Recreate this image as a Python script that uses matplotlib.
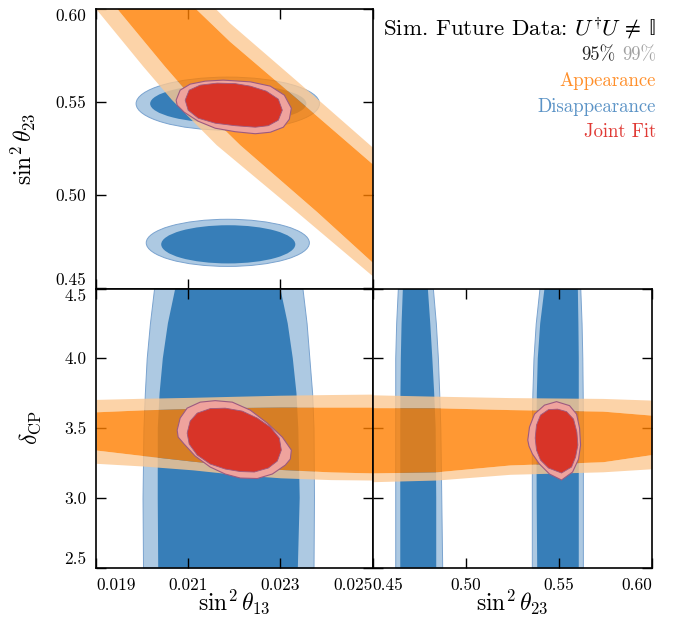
import matplotlib.pyplot as plt
from matplotlib.patches import Polygon, Ellipse

plt.rcParams['font.family'] = 'serif'
plt.rcParams['font.serif'] = ['cmr10']
plt.rcParams['mathtext.fontset'] = 'cm'
plt.rcParams['axes.formatter.use_mathtext'] = True

# colours for the three data sets (95% / 99% regions)
APP_95, APP_99 = '#ff7f00', '#fcc892'
DIS_95, DIS_99, DIS_EDGE = '#377eb8', '#adc9e2', '#7aa3cf'
JNT_95, JNT_99, JNT_EDGE = '#d83428', '#efa39d', '#9c5a80'
APP_ALPHA = 0.8

# axis ticks
s13_ticks = [0.019, 0.021, 0.023, 0.025]
s13_labels = ['0.019', '0.021', '0.023', '0.025']
s23_ticks = [0.45, 0.50, 0.55, 0.60]
s23_labels = ['0.45', '0.50', '0.55', '0.60']
dcp_ticks = [2.5, 3.0, 3.5, 4.0, 4.5]
dcp_labels = ['2.5', '3.0', '3.5', '4.0', '4.5']

# ---- sin^2 th13 vs sin^2 th23 ----
# appearance band edges (lower-left and upper-right), (s13, s23)
app_1323_99_lo = [(0.01830, 0.620), (0.01902, 0.5995), (0.02003, 0.5690), (0.02065, 0.5511),
                  (0.02162, 0.5269), (0.02336, 0.4910), (0.02503, 0.4561), (0.02580, 0.440)]
app_1323_95_lo = [(0.01880, 0.620), (0.01948, 0.5995), (0.02050, 0.5690), (0.02113, 0.5511),
                  (0.02213, 0.5269), (0.02380, 0.4910), (0.02503, 0.4633), (0.02606, 0.440)]
app_1323_95_hi = [(0.02620, 0.440), (0.02620, 0.4911), (0.02499, 0.5170), (0.02344, 0.5501),
                  (0.02191, 0.5824), (0.02119, 0.5995), (0.02033, 0.620)]
app_1323_99_hi = [(0.02640, 0.440), (0.02640, 0.4960), (0.02499, 0.5260), (0.02344, 0.5596),
                  (0.02191, 0.5923), (0.02162, 0.5995), (0.02080, 0.620)]

# disappearance: two islands (centre s13, centre s23, width, height)
dis_1323_99 = [(0.02186, 0.5492, 0.00398, 0.0285), (0.02186, 0.4745, 0.00354, 0.0253)]
dis_1323_95 = [(0.02187, 0.5492, 0.00339, 0.0210), (0.02187, 0.4737, 0.00291, 0.0205)]

# joint fit contours
jnt_1323_99 = [(0.020739, 0.55108), (0.020826, 0.55645), (0.021043, 0.55968), (0.021370, 0.56129),
               (0.021761, 0.56183), (0.022348, 0.56091), (0.022783, 0.55860), (0.023087, 0.55376),
               (0.023239, 0.54677), (0.023196, 0.54086), (0.023065, 0.53656), (0.022783, 0.53387),
               (0.022457, 0.53306), (0.022022, 0.53414), (0.021587, 0.53602), (0.021217, 0.53978),
               (0.020913, 0.54462), (0.020761, 0.54839)]
jnt_1323_95 = [(0.020935, 0.55108), (0.021022, 0.55645), (0.021261, 0.55914), (0.021630, 0.56022),
               (0.022022, 0.55995), (0.022348, 0.55860), (0.022696, 0.55591), (0.022957, 0.55161),
               (0.023043, 0.54570), (0.022957, 0.54032), (0.022739, 0.53737), (0.022457, 0.53656),
               (0.022022, 0.53737), (0.021587, 0.53871), (0.021217, 0.54140), (0.021000, 0.54570)]

# ---- sin^2 th13 vs delta_CP ----
s13_app = [0.0190, 0.0200, 0.0211, 0.0221, 0.0230, 0.0241, 0.0250]
dcp_app13_99_hi = [3.705, 3.713, 3.720, 3.728, 3.735, 3.740, 3.743]
dcp_app13_95_hi = [3.616, 3.630, 3.640, 3.647, 3.650, 3.650, 3.650]
dcp_app13_95_lo = [3.342, 3.303, 3.262, 3.228, 3.203, 3.185, 3.178]
dcp_app13_99_lo = [3.247, 3.228, 3.200, 3.165, 3.143, 3.130, 3.127]

dcp_dis = [2.5, 3.0, 3.5, 3.75, 4.0, 4.25, 4.5]
s13_dis_99_l = [0.02002, 0.02001, 0.02003, 0.02006, 0.02010, 0.02017, 0.02026]
s13_dis_99_r = [0.02372, 0.02373, 0.02372, 0.02369, 0.02363, 0.02357, 0.02348]
s13_dis_95_l = [0.02035, 0.02034, 0.02034, 0.02038, 0.02045, 0.02056, 0.02072]
s13_dis_95_r = [0.02338, 0.02342, 0.02339, 0.02335, 0.02327, 0.02316, 0.02300]

jnt_13cp_99 = [(0.020761, 3.4850), (0.020826, 3.5709), (0.020978, 3.6425), (0.021261, 3.6854),
               (0.021587, 3.6961), (0.021957, 3.6854), (0.022348, 3.6281), (0.022717, 3.5351),
               (0.023043, 3.4349), (0.023239, 3.3418), (0.023217, 3.2774), (0.023109, 3.2344),
               (0.022826, 3.1700), (0.022500, 3.1378), (0.022130, 3.1414), (0.021804, 3.1700),
               (0.021478, 3.2201), (0.021152, 3.2989), (0.020913, 3.3848), (0.020783, 3.4349)]
jnt_13cp_95 = [(0.020978, 3.4635), (0.021043, 3.5494), (0.021196, 3.6066), (0.021478, 3.6389),
               (0.021804, 3.6424), (0.022174, 3.6210), (0.022500, 3.5709), (0.022783, 3.5064),
               (0.022978, 3.4277), (0.023022, 3.3418), (0.022935, 3.2630), (0.022739, 3.2129),
               (0.022435, 3.1843), (0.022130, 3.1879), (0.021804, 3.2058), (0.021478, 3.2416),
               (0.021196, 3.3060), (0.021022, 3.3848)]

# ---- sin^2 th23 vs delta_CP ----
s23_app = [0.450, 0.4844, 0.5237, 0.5736, 0.600]
dcp_app23_99_hi = [3.738, 3.728, 3.718, 3.712, 3.700]
dcp_app23_95_hi = [3.646, 3.645, 3.632, 3.621, 3.592]
dcp_app23_95_lo = [3.178, 3.186, 3.235, 3.258, 3.310]
dcp_app23_99_lo = [3.115, 3.127, 3.168, 3.186, 3.208]

# two octant stripes, edges at the dcp_dis rows
s23_disA_99_l = [0.4622, 0.4622, 0.4622, 0.4622, 0.4622, 0.4627, 0.4636]
s23_disA_99_r = [0.4874, 0.4869, 0.4864, 0.4858, 0.4851, 0.4840, 0.4824]
s23_disA_95_l = [0.4649, 0.4649, 0.4649, 0.4650, 0.4652, 0.4656, 0.4663]
s23_disA_95_r = [0.4842, 0.4842, 0.4839, 0.4831, 0.4821, 0.4810, 0.4797]
s23_disB_99_l = [0.5355, 0.5355, 0.5355, 0.5358, 0.5364, 0.5376, 0.5396]
s23_disB_99_r = [0.5629, 0.5629, 0.5629, 0.5628, 0.5626, 0.5622, 0.5615]
s23_disB_95_l = [0.5384, 0.5381, 0.5380, 0.5382, 0.5387, 0.5400, 0.5423]
s23_disB_95_r = [0.5607, 0.5607, 0.5607, 0.5607, 0.5607, 0.5605, 0.5602]

jnt_23cp_99 = [(0.53333, 3.4134), (0.53425, 3.5064), (0.53694, 3.5995), (0.54231, 3.6639),
               (0.54876, 3.6890), (0.55575, 3.6603), (0.55952, 3.5995), (0.56113, 3.4993),
               (0.56167, 3.3776), (0.56059, 3.2774), (0.55737, 3.1843), (0.55145, 3.1271),
               (0.54500, 3.1700), (0.53962, 3.2416), (0.53586, 3.3132), (0.53398, 3.3704)]
jnt_23cp_95 = [(0.53731, 3.4277), (0.53801, 3.5208), (0.54016, 3.5924), (0.54446, 3.6317),
               (0.54930, 3.6353), (0.55414, 3.6174), (0.55790, 3.5637), (0.55968, 3.4707),
               (0.56022, 3.3776), (0.55898, 3.2917), (0.55683, 3.2201), (0.55145, 3.1772),
               (0.54446, 3.2129), (0.54016, 3.2702), (0.53801, 3.3418)]


def poly(ax, pts, **kw):
    ax.add_patch(Polygon(pts, closed=True, **kw))


def joint(ax, c99, c95):
    poly(ax, c99, facecolor=JNT_99, edgecolor=JNT_EDGE, lw=0.8, zorder=3)
    poly(ax, c95, facecolor=JNT_95, edgecolor=JNT_EDGE, lw=0.6, zorder=3)


def app_band_h(ax, x, hi99, hi95, lo95, lo99):
    ax.fill_between(x, hi95, hi99, color=APP_99, alpha=APP_ALPHA, lw=0, zorder=2)
    ax.fill_between(x, lo99, lo95, color=APP_99, alpha=APP_ALPHA, lw=0, zorder=2)
    ax.fill_between(x, lo95, hi95, color=APP_95, alpha=APP_ALPHA, lw=0, zorder=2)


def dis_stripe(ax, y, l99, r99, l95, r95):
    ax.fill_betweenx(y, l99, r99, facecolor=DIS_99, edgecolor=DIS_EDGE, lw=0.7, zorder=1)
    ax.fill_betweenx(y, l95, r95, facecolor=DIS_95, lw=0, zorder=1)


def style(ax):
    ax.tick_params(which='both', direction='in', top=True, right=True,
                   length=7.5, width=1.0, labelsize=12.5, pad=7)
    for sp in ax.spines.values():
        sp.set_linewidth(1.2)


def edge_ticklabels(ax, xaxis=True, yaxis=True):
    if xaxis:
        xl = ax.get_xticklabels()
        xl[0].set_horizontalalignment('left')
        xl[-1].set_horizontalalignment('right')
    if yaxis:
        yl = ax.get_yticklabels()
        yl[0].set_verticalalignment('bottom')
        yl[-1].set_verticalalignment('top')


fig = plt.figure(figsize=(6.83, 6.18), dpi=100)
ax_tl = fig.add_axes([96 / 683, 1 - 288.5 / 618, 276.5 / 683, 279.5 / 618])
ax_bl = fig.add_axes([96 / 683, 1 - 567.5 / 618, 276.5 / 683, 279 / 618])
ax_br = fig.add_axes([372.5 / 683, 1 - 567.5 / 618, 279.5 / 683, 279 / 618])

# top left: s13 vs s23
for cx, cy, w, h in dis_1323_99:
    ax_tl.add_patch(Ellipse((cx, cy), w, h, facecolor=DIS_99, edgecolor=DIS_EDGE, lw=0.7, zorder=1))
for cx, cy, w, h in dis_1323_95:
    ax_tl.add_patch(Ellipse((cx, cy), w, h, facecolor=DIS_95, lw=0, zorder=1))
poly(ax_tl, app_1323_99_lo + app_1323_95_lo[::-1], facecolor=APP_99, alpha=APP_ALPHA, lw=0, zorder=2)
poly(ax_tl, app_1323_95_hi + app_1323_99_hi[::-1], facecolor=APP_99, alpha=APP_ALPHA, lw=0, zorder=2)
poly(ax_tl, app_1323_95_lo + app_1323_95_hi, facecolor=APP_95, alpha=APP_ALPHA, lw=0, zorder=2)
joint(ax_tl, jnt_1323_99, jnt_1323_95)
ax_tl.set_xlim(0.019, 0.025)
ax_tl.set_ylim(0.45, 0.60)
ax_tl.set_xticks(s13_ticks)
ax_tl.set_yticks(s23_ticks)
ax_tl.set_yticklabels(s23_labels)
style(ax_tl)
ax_tl.tick_params(labelbottom=False)
edge_ticklabels(ax_tl, xaxis=False)
ax_tl.set_ylabel(r'$\sin^2\theta_{23}$', fontsize=17)
ax_tl.yaxis.set_label_coords(-0.213, 0.5)

# bottom left: s13 vs delta_CP
dis_stripe(ax_bl, dcp_dis, s13_dis_99_l, s13_dis_99_r, s13_dis_95_l, s13_dis_95_r)
app_band_h(ax_bl, s13_app, dcp_app13_99_hi, dcp_app13_95_hi, dcp_app13_95_lo, dcp_app13_99_lo)
joint(ax_bl, jnt_13cp_99, jnt_13cp_95)
ax_bl.set_xlim(0.019, 0.025)
ax_bl.set_ylim(2.5, 4.5)
ax_bl.set_xticks(s13_ticks)
ax_bl.set_xticklabels(s13_labels)
ax_bl.set_yticks(dcp_ticks)
ax_bl.set_yticklabels(dcp_labels)
style(ax_bl)
edge_ticklabels(ax_bl)
ax_bl.set_xlabel(r'$\sin^2\theta_{13}$', fontsize=17)
ax_bl.xaxis.set_label_coords(0.5, -0.072)
ax_bl.set_ylabel(r'$\delta_{\rm CP}$', fontsize=17)
ax_bl.yaxis.set_label_coords(-0.19, 0.5)

# bottom right: s23 vs delta_CP
dis_stripe(ax_br, dcp_dis, s23_disA_99_l, s23_disA_99_r, s23_disA_95_l, s23_disA_95_r)
dis_stripe(ax_br, dcp_dis, s23_disB_99_l, s23_disB_99_r, s23_disB_95_l, s23_disB_95_r)
app_band_h(ax_br, s23_app, dcp_app23_99_hi, dcp_app23_95_hi, dcp_app23_95_lo, dcp_app23_99_lo)
joint(ax_br, jnt_23cp_99, jnt_23cp_95)
ax_br.set_xlim(0.45, 0.60)
ax_br.set_ylim(2.5, 4.5)
ax_br.set_xticks(s23_ticks)
ax_br.set_xticklabels(s23_labels)
ax_br.set_yticks(dcp_ticks)
style(ax_br)
ax_br.tick_params(labelleft=False)
edge_ticklabels(ax_br, yaxis=False)
ax_br.set_xlabel(r'$\sin^2\theta_{23}$', fontsize=17)
ax_br.xaxis.set_label_coords(0.5, -0.072)

# legend block in the empty corner
xr = 656 / 683
fig.text(xr, 1 - 35.7 / 618, r'Sim. Future Data: $U^{\!\dagger}\!U \,\neq\, \mathrm{\mathbb{I}}$',
         ha='right', va='baseline', fontsize=16.5)
fig.text(615 / 683, 1 - 60 / 618, '95%', ha='right', va='baseline', fontsize=13.5, color='#222222')
fig.text(xr, 1 - 60 / 618, '99%', ha='right', va='baseline', fontsize=13.5, color='#a0a0a0')
fig.text(xr, 1 - 86 / 618, 'Appearance', ha='right', va='baseline', fontsize=13.5, color='#ff8f2a')
fig.text(xr, 1 - 111.7 / 618, 'Disappearance', ha='right', va='baseline', fontsize=13.5, color='#5b93c6')
fig.text(xr, 1 - 137.3 / 618, 'Joint Fit', ha='right', va='baseline', fontsize=13.5, color='#e03a35')

fig.savefig('out.png', dpi=100)
